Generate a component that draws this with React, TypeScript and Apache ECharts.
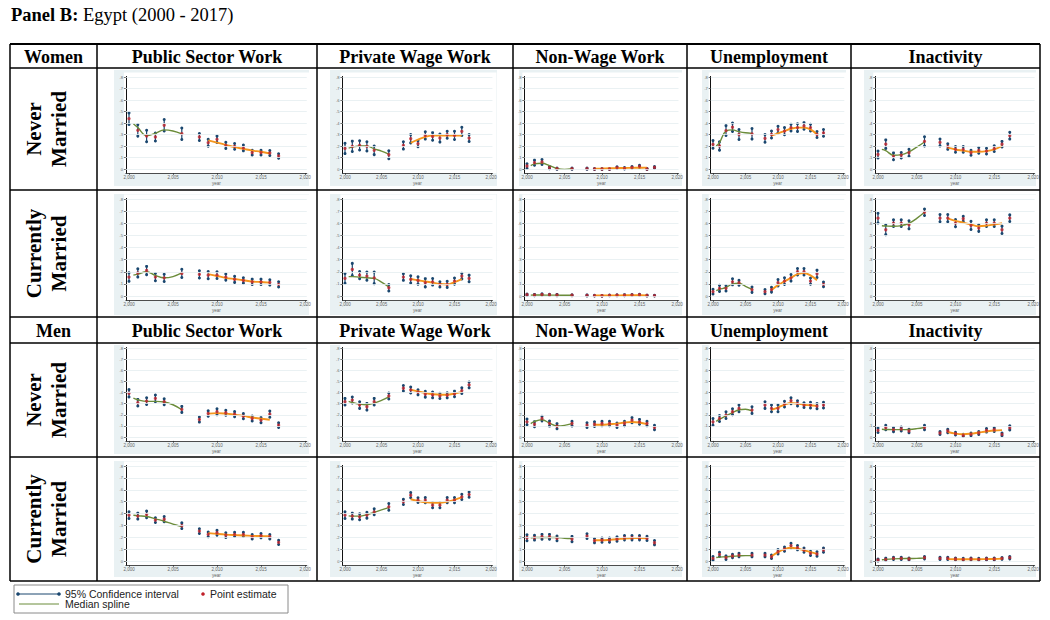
import React, { useEffect, useRef } from "react";
import * as echarts from "echarts";

// ---------- categories / ticks ----------
const years = [2000, 2001, 2002, 2003, 2004, 2006, 2008, 2009, 2010, 2011, 2012, 2013, 2014, 2015, 2016, 2017];
const splineYearsA = [2000.5, 2001, 2002, 2003, 2004, 2005, 2006];
const splineYearsB = [2009, 2010, 2011, 2012, 2013, 2014, 2015, 2016];
const xTickValues = [2000, 2005, 2010, 2015, 2020];
const yTickValues = [0, 0.1, 0.2, 0.3, 0.4, 0.5, 0.6, 0.7, 0.8];
const columnTitles = ["Public Sector Work", "Private Wage Work", "Non-Wage Work", "Unemployment", "Inactivity"];
const groupTitles = ["Women", "Men"];
const rowLabels = ["Never\nMarried", "Currently\nMarried", "Never\nMarried", "Currently\nMarried"];

// ---------- Women, never married ----------
const womenNeverPublic = {
  est: [0.438, 0.336, 0.287, 0.278, 0.38, 0.307, 0.278, 0.229, 0.258, 0.206, 0.197, 0.183, 0.142, 0.142, 0.139, 0.113],
  hw: [0.05, 0.05, 0.05, 0.035, 0.05, 0.05, 0.03, 0.03, 0.028, 0.027, 0.025, 0.025, 0.02, 0.02, 0.022, 0.02],
  splineA: [0.394, 0.36, 0.29, 0.31, 0.34, 0.33, 0.305],
  splineB: [0.249, 0.23, 0.21, 0.19, 0.175, 0.16, 0.15, 0.135],
};
const womenNeverPrivate = {
  est: [0.179, 0.197, 0.205, 0.197, 0.162, 0.124, 0.205, 0.263, 0.22, 0.292, 0.283, 0.269, 0.298, 0.292, 0.327, 0.269],
  hw: [0.045, 0.045, 0.04, 0.04, 0.037, 0.035, 0.032, 0.036, 0.026, 0.032, 0.033, 0.035, 0.03, 0.036, 0.036, 0.03],
  splineA: [0.182, 0.19, 0.2, 0.2, 0.175, 0.155, 0.13],
  splineB: [0.228, 0.255, 0.28, 0.29, 0.29, 0.29, 0.29, 0.29],
};
const womenNeverNonWage = {
  est: [0.026, 0.055, 0.061, 0.012, 0.003, 0.003, 0.003, 0, 0, 0, 0.012, 0.006, 0.014, 0.023, 0, 0.014],
  hw: [0.02, 0.022, 0.022, 0.01, 0.006, 0.006, 0.006, 0.004, 0.004, 0.004, 0.008, 0.006, 0.008, 0.01, 0.004, 0.008],
  splineA: [0.03, 0.045, 0.05, 0.03, 0.005, -0.003, 0.003],
  splineB: [0.003, 0.004, 0.006, 0.008, 0.009, 0.01, 0.011, 0.012],
};
const womenNeverUnemp = {
  est: [0.214, 0.2, 0.334, 0.363, 0.3, 0.306, 0.266, 0.3, 0.343, 0.329, 0.36, 0.36, 0.374, 0.36, 0.3, 0.314],
  hw: [0.034, 0.036, 0.043, 0.036, 0.043, 0.046, 0.033, 0.031, 0.029, 0.031, 0.029, 0.033, 0.029, 0.029, 0.026, 0.029],
  splineA: [0.2, 0.23, 0.33, 0.34, 0.325, 0.315, 0.31],
  splineB: [0.29, 0.31, 0.33, 0.35, 0.36, 0.36, 0.345, 0.3],
};
const womenNeverInact = {
  est: [0.126, 0.216, 0.11, 0.12, 0.141, 0.24, 0.231, 0.195, 0.171, 0.171, 0.141, 0.162, 0.156, 0.177, 0.216, 0.29],
  hw: [0.03, 0.037, 0.03, 0.024, 0.03, 0.04, 0.03, 0.024, 0.025, 0.025, 0.021, 0.025, 0.025, 0.025, 0.024, 0.03],
  splineA: [0.171, 0.16, 0.12, 0.125, 0.15, 0.19, 0.235],
  splineB: [0.186, 0.17, 0.16, 0.15, 0.15, 0.155, 0.17, 0.2],
};

// ---------- Women, currently married ----------
const womenMarriedPublic = {
  est: [0.156, 0.19, 0.21, 0.156, 0.15, 0.186, 0.178, 0.172, 0.172, 0.156, 0.137, 0.128, 0.117, 0.117, 0.112, 0.096],
  hw: [0.035, 0.034, 0.034, 0.03, 0.03, 0.034, 0.03, 0.03, 0.028, 0.025, 0.025, 0.022, 0.022, 0.022, 0.022, 0.022],
  splineA: [0.172, 0.18, 0.2, 0.17, 0.15, 0.16, 0.19],
  splineB: [0.18, 0.165, 0.15, 0.14, 0.13, 0.12, 0.115, 0.11],
};
const womenMarriedPrivate = {
  est: [0.145, 0.219, 0.172, 0.164, 0.15, 0.068, 0.156, 0.137, 0.128, 0.109, 0.117, 0.096, 0.096, 0.123, 0.164, 0.145],
  hw: [0.04, 0.05, 0.03, 0.034, 0.048, 0.027, 0.027, 0.03, 0.03, 0.034, 0.027, 0.022, 0.025, 0.025, 0.023, 0.027],
  splineA: [0.16, 0.16, 0.155, 0.15, 0.145, 0.115, 0.075],
  splineB: [0.14, 0.13, 0.12, 0.11, 0.1, 0.095, 0.115, 0.14],
};
const womenMarriedNonWage = {
  est: [0.01, 0.008, 0.012, 0.01, 0.008, 0.006, 0.005, 0.003, 0.002, 0.005, 0.006, 0.007, 0.008, 0.01, 0.004, 0.003],
  hw: [0.006, 0.005, 0.006, 0.005, 0.005, 0.004, 0.004, 0.003, 0.003, 0.003, 0.004, 0.004, 0.004, 0.005, 0.003, 0.003],
  splineA: [0.007, 0.008, 0.008, 0.007, 0.007, 0.006, 0.006],
  splineB: [0.004, 0.004, 0.005, 0.005, 0.006, 0.006, 0.006, 0.005],
};
const womenMarriedUnemp = {
  est: [0.036, 0.063, 0.063, 0.117, 0.109, 0.052, 0.036, 0.052, 0.109, 0.123, 0.15, 0.2, 0.2, 0.123, 0.183, 0.096],
  hw: [0.02, 0.025, 0.022, 0.025, 0.02, 0.022, 0.018, 0.02, 0.027, 0.027, 0.027, 0.027, 0.027, 0.025, 0.03, 0.02],
  splineA: [0.045, 0.055, 0.07, 0.1, 0.105, 0.08, 0.055],
  splineB: [0.05, 0.09, 0.12, 0.15, 0.18, 0.19, 0.17, 0.13],
};
const womenMarriedInact = {
  est: [0.642, 0.546, 0.601, 0.601, 0.587, 0.691, 0.642, 0.642, 0.601, 0.637, 0.582, 0.56, 0.601, 0.601, 0.546, 0.642],
  hw: [0.04, 0.04, 0.027, 0.027, 0.033, 0.027, 0.03, 0.03, 0.03, 0.02, 0.034, 0.027, 0.027, 0.027, 0.03, 0.027],
  splineA: [0.579, 0.577, 0.575, 0.58, 0.6, 0.64, 0.69],
  splineB: [0.64, 0.62, 0.605, 0.59, 0.575, 0.58, 0.59, 0.6],
};

// ---------- Men, never married ----------
const menNeverPublic = {
  est: [0.393, 0.308, 0.323, 0.347, 0.317, 0.248, 0.157, 0.211, 0.227, 0.218, 0.205, 0.187, 0.166, 0.151, 0.205, 0.106],
  hw: [0.033, 0.03, 0.03, 0.03, 0.026, 0.027, 0.023, 0.024, 0.027, 0.023, 0.023, 0.023, 0.022, 0.023, 0.028, 0.021],
  splineA: [0.35, 0.335, 0.32, 0.32, 0.315, 0.29, 0.245],
  splineB: [0.21, 0.215, 0.21, 0.2, 0.19, 0.175, 0.165, 0.155],
};
const menNeverPrivate = {
  est: [0.317, 0.332, 0.287, 0.272, 0.317, 0.369, 0.438, 0.423, 0.402, 0.384, 0.378, 0.369, 0.375, 0.387, 0.417, 0.468],
  hw: [0.03, 0.027, 0.03, 0.03, 0.03, 0.027, 0.025, 0.027, 0.023, 0.026, 0.026, 0.023, 0.023, 0.025, 0.025, 0.026],
  splineA: [0.32, 0.31, 0.295, 0.29, 0.305, 0.33, 0.36],
  splineB: [0.425, 0.41, 0.395, 0.385, 0.38, 0.38, 0.39, 0.405],
};
const menNeverNonWage = {
  est: [0.136, 0.115, 0.166, 0.121, 0.097, 0.121, 0.106, 0.115, 0.121, 0.121, 0.106, 0.121, 0.151, 0.136, 0.121, 0.085],
  hw: [0.026, 0.023, 0.021, 0.023, 0.023, 0.021, 0.021, 0.021, 0.02, 0.02, 0.02, 0.02, 0.023, 0.022, 0.02, 0.02],
  splineA: [0.12, 0.14, 0.155, 0.125, 0.1, 0.105, 0.12],
  splineB: [0.11, 0.11, 0.115, 0.12, 0.13, 0.135, 0.13, 0.115],
};
const menNeverUnemp = {
  est: [0.136, 0.166, 0.196, 0.227, 0.257, 0.242, 0.287, 0.257, 0.257, 0.296, 0.326, 0.302, 0.287, 0.287, 0.278, 0.287],
  hw: [0.03, 0.027, 0.03, 0.026, 0.03, 0.03, 0.03, 0.03, 0.03, 0.026, 0.026, 0.024, 0.021, 0.026, 0.023, 0.026],
  splineA: [0.14, 0.16, 0.19, 0.22, 0.245, 0.25, 0.235],
  splineB: [0.245, 0.265, 0.29, 0.305, 0.3, 0.29, 0.285, 0.28],
};
const menNeverInact = {
  est: [0.06, 0.085, 0.066, 0.072, 0.054, 0.085, 0.036, 0.054, 0.03, 0.015, 0.024, 0.036, 0.06, 0.066, 0.024, 0.082],
  hw: [0.02, 0.02, 0.018, 0.018, 0.016, 0.02, 0.014, 0.016, 0.012, 0.01, 0.012, 0.014, 0.016, 0.016, 0.012, 0.018],
  splineA: [0.07, 0.068, 0.066, 0.066, 0.068, 0.075, 0.085],
  splineB: [0.045, 0.03, 0.025, 0.03, 0.04, 0.05, 0.058, 0.062],
};

// ---------- Men, currently married ----------
const menMarriedPublic = {
  est: [0.386, 0.378, 0.392, 0.344, 0.352, 0.297, 0.252, 0.224, 0.238, 0.218, 0.224, 0.224, 0.204, 0.213, 0.204, 0.157],
  hw: [0.028, 0.025, 0.028, 0.02, 0.022, 0.024, 0.02, 0.02, 0.02, 0.02, 0.018, 0.018, 0.018, 0.018, 0.018, 0.018],
  splineA: [0.385, 0.38, 0.375, 0.355, 0.335, 0.31, 0.29],
  splineB: [0.235, 0.228, 0.222, 0.218, 0.215, 0.212, 0.21, 0.208],
};
const menMarriedPrivate = {
  est: [0.386, 0.378, 0.372, 0.386, 0.414, 0.456, 0.498, 0.554, 0.512, 0.512, 0.47, 0.47, 0.512, 0.512, 0.54, 0.559],
  hw: [0.028, 0.025, 0.025, 0.025, 0.025, 0.028, 0.022, 0.022, 0.02, 0.022, 0.022, 0.022, 0.022, 0.022, 0.022, 0.022],
  splineA: [0.38, 0.378, 0.378, 0.39, 0.41, 0.43, 0.45],
  splineB: [0.52, 0.505, 0.495, 0.49, 0.49, 0.5, 0.515, 0.535],
};
const menMarriedNonWage = {
  est: [0.196, 0.196, 0.204, 0.204, 0.19, 0.185, 0.21, 0.171, 0.176, 0.176, 0.185, 0.196, 0.196, 0.196, 0.19, 0.154],
  hw: [0.025, 0.02, 0.02, 0.02, 0.02, 0.022, 0.02, 0.018, 0.018, 0.018, 0.018, 0.018, 0.018, 0.018, 0.018, 0.018],
  splineA: [0.196, 0.198, 0.198, 0.198, 0.198, 0.192, 0.19],
  splineB: [0.175, 0.175, 0.178, 0.183, 0.19, 0.192, 0.193, 0.192],
};
const menMarriedUnemp = {
  est: [0.022, 0.056, 0.028, 0.042, 0.05, 0.05, 0.05, 0.036, 0.078, 0.1, 0.129, 0.112, 0.092, 0.064, 0.059, 0.092],
  hw: [0.015, 0.018, 0.015, 0.015, 0.015, 0.015, 0.015, 0.015, 0.018, 0.018, 0.02, 0.018, 0.018, 0.018, 0.018, 0.018],
  splineA: [0.03, 0.033, 0.036, 0.04, 0.043, 0.045, 0.045],
  splineB: [0.04, 0.075, 0.1, 0.112, 0.105, 0.09, 0.075, 0.06],
};
const menMarriedInact = {
  est: [0.008, 0.014, 0.022, 0.022, 0.017, 0.028, 0.022, 0.022, 0.017, 0.014, 0.017, 0.014, 0.017, 0.017, 0.022, 0.028],
  hw: [0.008, 0.01, 0.01, 0.01, 0.008, 0.01, 0.01, 0.01, 0.008, 0.008, 0.008, 0.008, 0.008, 0.008, 0.008, 0.01],
  splineA: [0.01, 0.014, 0.018, 0.02, 0.021, 0.022, 0.024],
  splineB: [0.016, 0.015, 0.015, 0.015, 0.015, 0.016, 0.017, 0.02],
};

const panelRows = [
  [womenNeverPublic, womenNeverPrivate, womenNeverNonWage, womenNeverUnemp, womenNeverInact],
  [womenMarriedPublic, womenMarriedPrivate, womenMarriedNonWage, womenMarriedUnemp, womenMarriedInact],
  [menNeverPublic, menNeverPrivate, menNeverNonWage, menNeverUnemp, menNeverInact],
  [menMarriedPublic, menMarriedPrivate, menMarriedNonWage, menMarriedUnemp, menMarriedInact],
];

// ---------- layout (pixels) ----------
const COLS = [
  { bgL: 114, bgR: 309, x0: 129, x20: 305 },
  { bgL: 330, bgR: 497, x0: 345, x20: 491 },
  { bgL: 519, bgR: 682, x0: 527, x20: 677 },
  { bgL: 702, bgR: 846, x0: 713, x20: 843 },
  { bgL: 864, bgR: 1036, x0: 878, x20: 1033 },
];
const ROWS = [
  { bgT: 70, bgB: 186, y8: 77, y0: 169 },
  { bgT: 194, bgB: 315, y8: 199, y0: 296 },
  { bgT: 345, bgB: 454, y8: 348, y0: 437 },
  { bgT: 461, bgB: 577, y8: 466, y0: 561 },
];
const TABLE_X = [10, 97, 317, 513, 687, 851, 1040];
const TABLE_Y = [44, 68, 190, 317, 343, 457, 581];

const NAVY = "#1a476f";
const RED = "#c0202a";
const GREEN = "#6b8c3a";
const ORANGE = "#f5961e";
const PANEL_BG = "#e9f1f3";
const GRIDLINE = "#e4edf0";
const SERIF = '"Liberation Serif", "Times New Roman", serif';
const SANS = '"Liberation Sans", Arial, sans-serif';

function buildOption() {
  const grid: any[] = [];
  const xAxis: any[] = [];
  const yAxis: any[] = [];
  const series: any[] = [];
  const graphic: any[] = [];

  for (let r = 0; r < 4; r++) {
    for (let c = 0; c < 5; c++) {
      const idx = r * 5 + c;
      const col = COLS[c];
      const row = ROWS[r];
      const d = panelRows[r][c];
      const k = (col.x20 - col.x0) / 20;
      const m = (row.y0 - row.y8) / 0.8;
      const left = col.x0 - 0.35 * k;
      const right = col.x20 + 0.2 * k;
      const top = row.y8 - 0.005 * m;
      const bottom = row.y0 + 0.035 * m;
      grid.push({ left, top, width: right - left, height: bottom - top, containLabel: false });

      graphic.push({
        type: "rect",
        z: -10,
        shape: { x: col.bgL, y: row.bgT, width: col.bgR - col.bgL, height: row.bgB - row.bgT },
        style: { fill: PANEL_BG },
      });
      graphic.push({
        type: "rect",
        z: -9,
        shape: { x: left - 2, y: top - 4, width: right - left + 6, height: bottom - top + 4 },
        style: { fill: "#ffffff" },
      });

      xAxis.push({
        type: "value",
        gridIndex: idx,
        min: 1999.65,
        max: 2020.2,
        axisLine: { show: true, onZero: false, lineStyle: { color: "#222", width: 0.8 } },
        axisTick: { show: true, customValues: xTickValues, length: 2, lineStyle: { color: "#222", width: 0.6 } },
        axisLabel: { customValues: xTickValues, fontSize: 4.5, color: "#666", margin: 2, fontFamily: SANS },
        splitLine: { show: false },
        name: "year",
        nameLocation: "middle",
        nameGap: 8,
        nameTextStyle: { fontSize: 4.5, color: "#666", fontFamily: SANS },
      });
      yAxis.push({
        type: "value",
        gridIndex: idx,
        min: -0.035,
        max: 0.805,
        axisLine: { show: true, onZero: false, lineStyle: { color: "#111", width: 1 } },
        axisTick: { show: true, customValues: yTickValues, length: 2, lineStyle: { color: "#111", width: 0.6 } },
        axisLabel: {
          customValues: yTickValues,
          fontSize: 4,
          color: "#666",
          margin: 3,
          fontFamily: SANS,
          formatter: (v: number) => (v === 0 ? "0" : "." + Math.round(v * 10)),
        },
        splitLine: { show: false },
      });

      series.push({
        type: "custom",
        xAxisIndex: idx,
        yAxisIndex: idx,
        z: 2,
        data: years.map((y, i) => [y, d.est[i] - d.hw[i], d.est[i] + d.hw[i]]),
        renderItem: (params: any, api: any) => {
          const x = api.value(0);
          const p1 = api.coord([x, api.value(1)]);
          const p2 = api.coord([x, api.value(2)]);
          return {
            type: "group",
            children: [
              { type: "line", shape: { x1: p1[0], y1: p1[1], x2: p2[0], y2: p2[1] }, style: { stroke: NAVY, lineWidth: 1.2 } },
              { type: "circle", shape: { cx: p1[0], cy: p1[1], r: 1.5 }, style: { fill: NAVY } },
              { type: "circle", shape: { cx: p2[0], cy: p2[1], r: 1.5 }, style: { fill: NAVY } },
            ],
          };
        },
        markLine: {
          silent: true,
          symbol: ["none", "none"],
          label: { show: false },
          lineStyle: { color: GRIDLINE, width: 0.8, type: "solid" },
          data: yTickValues.map((v) => ({ yAxis: v })),
        },
      });
      series.push({
        type: "line",
        xAxisIndex: idx,
        yAxisIndex: idx,
        z: 3,
        smooth: 0.4,
        symbol: "none",
        data: splineYearsA.map((y, i) => [y, d.splineA[i]]),
        lineStyle: { color: GREEN, width: 1.4 },
      });
      series.push({
        type: "line",
        xAxisIndex: idx,
        yAxisIndex: idx,
        z: 3,
        smooth: 0.4,
        symbol: "none",
        data: splineYearsB.map((y, i) => [y, d.splineB[i]]),
        lineStyle: { color: ORANGE, width: 1.9 },
      });
      series.push({
        type: "scatter",
        xAxisIndex: idx,
        yAxisIndex: idx,
        z: 4,
        symbolSize: 3.3,
        data: years.map((y, i) => [y, d.est[i]]),
        itemStyle: { color: RED },
      });
    }
  }

  // title
  graphic.push({
    type: "text",
    x: 11,
    y: 15,
    style: {
      text: "{b|Panel B:} Egypt (2000 - 2017)",
      font: `18.5px ${SERIF}`,
      fill: "#000",
      verticalAlign: "middle",
      rich: { b: { fontWeight: "bold", fontSize: 18.5, fontFamily: SERIF } },
    },
  });

  // table lines
  TABLE_Y.forEach((y, i) => {
    graphic.push({
      type: "line",
      z: 20,
      shape: { x1: TABLE_X[0], y1: y, x2: TABLE_X[TABLE_X.length - 1], y2: y },
      style: { stroke: "#000", lineWidth: i === 0 ? 2 : 1.5 },
    });
  });
  TABLE_X.forEach((x) => {
    graphic.push({
      type: "line",
      z: 20,
      shape: { x1: x, y1: TABLE_Y[0], x2: x, y2: TABLE_Y[TABLE_Y.length - 1] },
      style: { stroke: "#000", lineWidth: 1.5 },
    });
  });

  // header rows
  const headerCenters = [(TABLE_Y[0] + TABLE_Y[1]) / 2, (TABLE_Y[3] + TABLE_Y[4]) / 2];
  headerCenters.forEach((cy, g) => {
    graphic.push({
      type: "text",
      z: 20,
      x: (TABLE_X[0] + TABLE_X[1]) / 2,
      y: cy + 1,
      style: { text: groupTitles[g], font: `bold 18px ${SERIF}`, fill: "#000", align: "center", verticalAlign: "middle" },
    });
    columnTitles.forEach((t, c) => {
      graphic.push({
        type: "text",
        z: 20,
        x: (TABLE_X[c + 1] + TABLE_X[c + 2]) / 2,
        y: cy + 1,
        style: { text: t, font: `bold 18px ${SERIF}`, fill: "#000", align: "center", verticalAlign: "middle" },
      });
    });
  });

  // row labels
  const rowBands = [
    [TABLE_Y[1], TABLE_Y[2]],
    [TABLE_Y[2], TABLE_Y[3]],
    [TABLE_Y[4], TABLE_Y[5]],
    [TABLE_Y[5], TABLE_Y[6]],
  ];
  rowBands.forEach((b, r) => {
    graphic.push({
      type: "text",
      z: 20,
      x: 46,
      y: (b[0] + b[1]) / 2,
      rotation: Math.PI / 2,
      style: {
        text: rowLabels[r],
        font: `bold 21px ${SERIF}`,
        lineHeight: 25,
        fill: "#000",
        align: "center",
        verticalAlign: "middle",
      },
    });
  });

  // legend
  graphic.push({
    type: "rect",
    z: 20,
    shape: { x: 14, y: 585, width: 274, height: 28 },
    style: { fill: "#fff", stroke: "#8a8a8a", lineWidth: 1 },
  });
  graphic.push({ type: "line", z: 21, shape: { x1: 18, y1: 594, x2: 59, y2: 594 }, style: { stroke: NAVY, lineWidth: 1 } });
  graphic.push({ type: "circle", z: 21, shape: { cx: 18, cy: 594, r: 1.8 }, style: { fill: NAVY } });
  graphic.push({ type: "circle", z: 21, shape: { cx: 59, cy: 594, r: 1.8 }, style: { fill: NAVY } });
  graphic.push({
    type: "text",
    z: 21,
    x: 65,
    y: 594,
    style: { text: "95% Confidence interval", font: `10.5px ${SANS}`, fill: "#222", verticalAlign: "middle" },
  });
  graphic.push({ type: "circle", z: 21, shape: { cx: 203, cy: 594, r: 1.8 }, style: { fill: RED } });
  graphic.push({
    type: "text",
    z: 21,
    x: 210,
    y: 594,
    style: { text: "Point estimate", font: `10.5px ${SANS}`, fill: "#222", verticalAlign: "middle" },
  });
  graphic.push({ type: "line", z: 21, shape: { x1: 19, y1: 604, x2: 59, y2: 604 }, style: { stroke: GREEN, lineWidth: 1 } });
  graphic.push({
    type: "text",
    z: 21,
    x: 65,
    y: 604,
    style: { text: "Median spline", font: `10.5px ${SANS}`, fill: "#222", verticalAlign: "middle" },
  });

  return {
    animation: false,
    backgroundColor: "#ffffff",
    grid,
    xAxis,
    yAxis,
    series,
    graphic: { elements: graphic },
  };
}

export default function App() {
  const ref = useRef<HTMLDivElement>(null);
  useEffect(() => {
    if (!ref.current) return;
    const chart = echarts.init(ref.current, undefined, { renderer: "svg" });
    chart.setOption(buildOption() as any);
    return () => chart.dispose();
  }, []);
  return (
    <div
      ref={ref}
      style={{ position: "fixed", left: 0, top: 0, width: 1050, height: 620, background: "#fff" }}
    />
  );
}
